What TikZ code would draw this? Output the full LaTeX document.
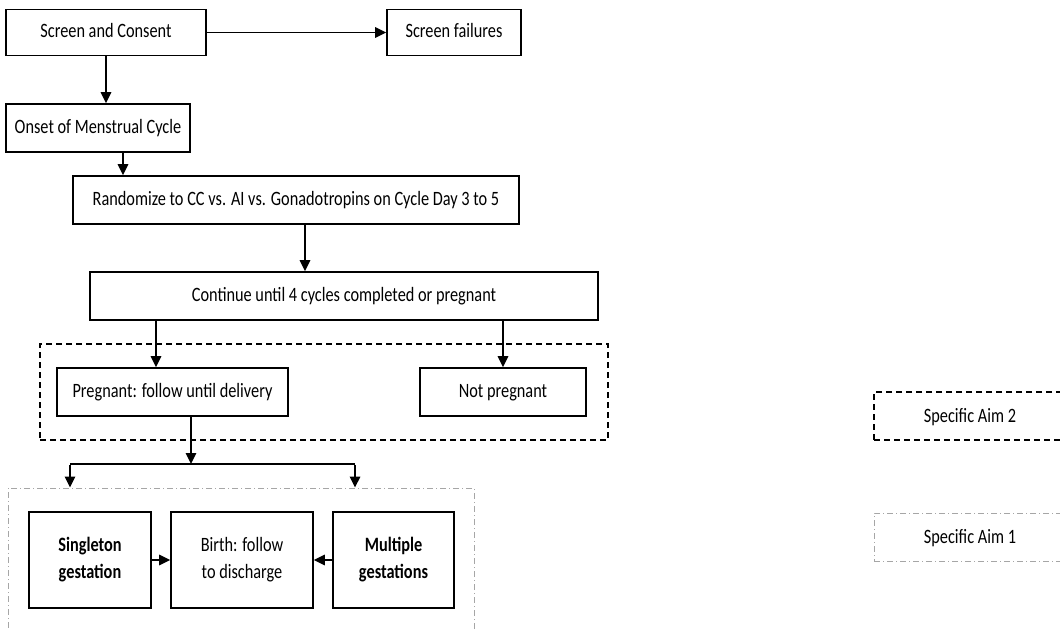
\documentclass[tikz,border=0pt]{standalone}
\usepackage{fontspec}
\usepackage{graphicx}
\setmainfont{Carlito}
\usetikzlibrary{arrows.meta}
\newcommand{\tx}[1]{\scalebox{1}[1.25]{\begin{tabular}{@{}c@{}}#1\end{tabular}}}
\begin{document}
\begin{tikzpicture}[x=1pt,y=-1pt,
  box/.style={draw, line width=1.6pt, inner sep=0pt, align=center, font=\fontsize{16.3}{21.6}\selectfont},
  arr/.style={line width=1.6pt, -{Triangle[length=11pt,width=10.5pt]}},
  ln/.style={line width=1.6pt},
  grptwo/.style={draw, line width=1.5pt, dash pattern=on 6pt off 4pt, inner sep=0pt},
  grpone/.style={draw, gray!70, line width=0.9pt, dash pattern=on 6pt off 3pt on 1pt off 3pt, inner sep=0pt},
  lab/.style={font=\fontsize{16.3}{20}\selectfont, inner sep=0pt}]
\useasboundingbox (0,0) rectangle (1060,631);
% groups
\node[grptwo, minimum width=568pt, minimum height=96pt] (grp2) at (324,392) {};
\node[grpone, minimum width=466pt, minimum height=156pt] (grp1) at (241,566) {};
% legend
\node[grptwo, minimum width=200pt, minimum height=48pt] (leg2) at (974,416) {};
\node[lab] (leg2t) at (970,417) {\tx{Specific Aim 2}};
\node[grpone, minimum width=200pt, minimum height=48pt] (leg1) at (974,537) {};
\node[lab] (leg1t) at (970,538) {\tx{Specific Aim 1}};
% boxes
\node[box, minimum width=200pt, minimum height=46pt] (sc) at (106,32.5) {\tx{Screen and Consent}};
\node[box, minimum width=134pt, minimum height=46pt] (sf) at (454,32.5) {\tx{Screen failures}};
\node[box, minimum width=184pt, minimum height=48pt] (on) at (98,128) {\tx{Onset of Menstrual Cycle}};
\node[box, minimum width=446pt, minimum height=48pt] (rand) at (296,200) {\tx{Randomize to CC vs. AI vs. Gonadotropins on Cycle Day 3 to 5}};
\node[box, minimum width=508pt, minimum height=48pt] (cont) at (344,296) {\tx{Continue until 4 cycles completed or pregnant}};
\node[box, minimum width=231pt, minimum height=48pt] (preg) at (172.5,392) {\tx{Pregnant: follow until delivery}};
\node[box, minimum width=166pt, minimum height=48pt] (notp) at (503,392) {\tx{Not pregnant}};
\node[box, minimum width=122pt, minimum height=96pt] (sing) at (90,560) {\tx{\bfseries Singleton\\\bfseries gestation}};
\node[box, minimum width=142pt, minimum height=96pt] (birth) at (242,560) {\tx{Birth: follow\\to discharge}};
\node[box, minimum width=121pt, minimum height=96pt] (mult) at (393.5,560) {\tx{\bfseries Multiple\\\bfseries gestations}};
% connectors
\draw[arr] (sc) -- (sf);
\draw[arr] (sc.south) -- (sc.south |- on.north);
\draw[arr] ([xshift=25pt]on.south) -- ([xshift=25pt]on.south |- rand.north);
\draw[arr] ([xshift=9pt]rand.south) -- ([xshift=9pt]rand.south |- cont.north);
\draw[arr] ([xshift=-16.5pt]preg.north |- cont.south) -- ([xshift=-16.5pt]preg.north);
\draw[arr] (notp.north |- cont.south) -- (notp.north);
\coordinate (split) at (191,464);
\coordinate (sl) at (70,464);
\coordinate (sr) at (355,464);
\draw[arr] ([xshift=18.5pt]preg.south) -- (split);
\draw[ln] (sl) -- (sr);
\draw[arr] ([yshift=-0.8pt]sl) -- (sl |- grp1.north);
\draw[arr] ([yshift=-0.8pt]sr) -- (sr |- grp1.north);
\draw[arr] (sing) -- (birth);
\draw[arr] (mult) -- (birth);
\end{tikzpicture}
\end{document}
